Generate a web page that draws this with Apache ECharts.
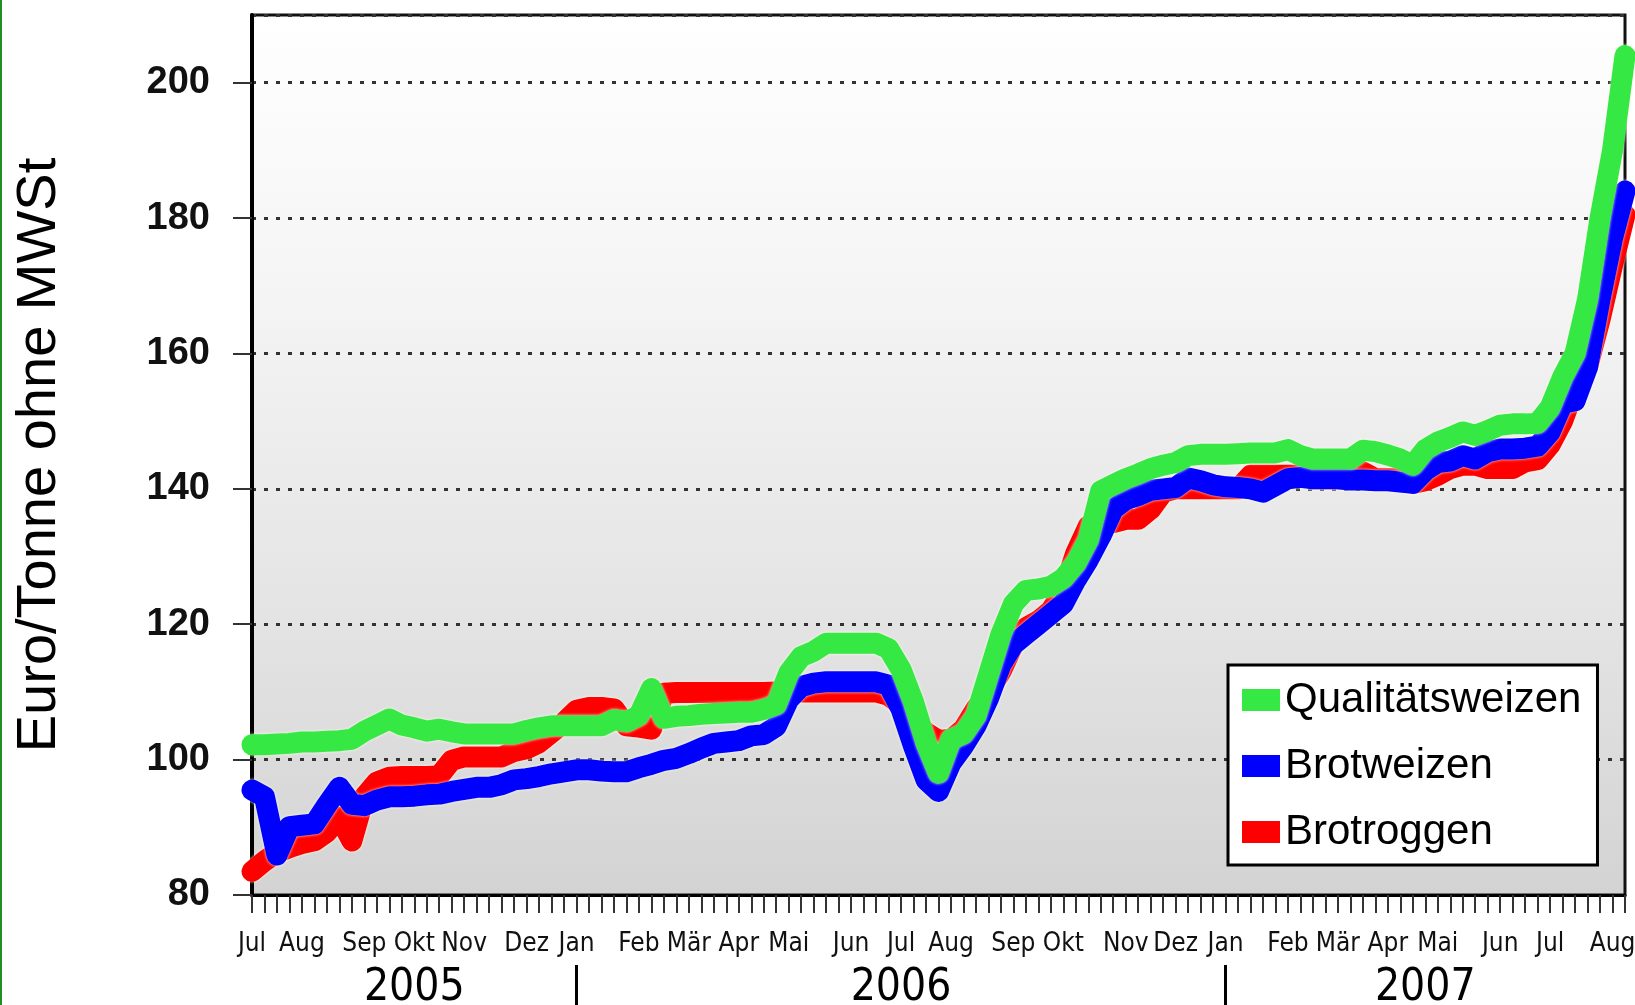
<!DOCTYPE html>
<html>
<head>
<meta charset="utf-8">
<script src="https://cdn.jsdelivr.net/npm/echarts@6/dist/echarts.min.js"></script>
<style>
  html, body { margin: 0; padding: 0; background: #ffffff; }
  #chart { width: 1635px; height: 1005px; }
  #edge { position: absolute; left: 0; top: 0; width: 2px; height: 1005px; background: #1f8f1f; z-index: 5; }
</style>
</head>
<body>
<div id="edge"></div>
<div id="chart"></div>
<script>
// ---- data (weekly quotes, Jul 2005 - Aug 2007), Euro/Tonne ohne MWSt ----
const seriesNames = ['Qualitätsweizen', 'Brotweizen', 'Brotroggen'];

const qualitaetsweizen = [
  102.2,102.2,102.3,102.4,102.6,102.6,102.7,102.8,103.0,104.2,
  105.1,106.0,105.1,104.7,104.2,104.5,104.1,103.8,103.8,103.8,
  103.8,103.8,104.3,104.7,105.0,105.0,105.0,105.0,105.0,105.9,
  105.6,106.5,110.5,106.1,106.4,106.5,106.7,106.8,106.9,107.0,
  107.0,107.4,108.1,112.8,115.2,116.0,117.2,117.2,117.2,117.2,
  117.2,116.4,113.3,108.5,102.5,98.0,103.0,103.8,106.5,112.5,
  118.5,123.0,125.0,125.2,125.6,126.8,129.0,132.5,139.7,140.6,
  141.5,142.2,143.0,143.5,143.9,144.9,145.1,145.1,145.1,145.2,
  145.3,145.3,145.3,145.8,144.9,144.4,144.4,144.4,144.4,145.7,
  145.5,145.0,144.4,143.5,145.8,146.9,147.6,148.4,147.9,148.6,
  149.4,149.6,149.6,149.7,152.0,156.5,160.0,168.0,180.0,190.0,
  204.0
];

const brotweizen = [
  95.5,94.5,85.9,90.1,90.3,90.5,93.3,95.9,93.4,93.2,
  94.0,94.5,94.5,94.6,94.8,94.9,95.3,95.6,95.9,95.9,
  96.3,97.0,97.2,97.5,97.9,98.2,98.5,98.5,98.3,98.2,
  98.2,98.8,99.3,99.9,100.2,100.9,101.7,102.4,102.6,102.8,
  103.5,103.7,104.9,108.9,110.8,111.3,111.5,111.5,111.5,111.5,
  111.5,111.0,107.5,102.0,97.0,95.3,99.5,102.0,105.0,109.0,
  114.0,117.0,118.5,120.0,121.5,123.0,126.5,129.5,133.0,137.0,
  138.4,139.0,139.8,140.0,140.2,141.6,141.2,140.6,140.3,140.2,
  140.0,139.5,140.5,141.5,141.7,141.5,141.5,141.5,141.3,141.3,
  141.2,141.2,141.0,140.8,142.7,143.9,144.1,144.9,144.4,145.5,
  145.9,145.9,146.0,146.3,148.4,152.6,153.0,158.0,168.0,177.0,
  184.0
];

const brotroggen = [
  83.5,85.0,86.3,87.0,87.6,88.0,89.3,91.5,88.0,94.5,
  96.7,97.4,97.5,97.5,97.5,97.6,99.9,100.4,100.4,100.4,
  100.4,101.2,101.6,102.5,104.0,105.5,107.3,107.7,107.7,107.5,
  105.0,104.8,104.5,109.8,109.9,109.9,109.9,109.9,109.9,109.9,
  109.9,109.9,110.0,109.8,110.0,110.0,110.0,110.0,110.0,110.0,
  110.0,109.5,108.0,106.0,104.0,102.8,103.0,104.5,107.5,110.0,
  113.0,117.0,119.5,120.5,122.0,125.0,130.5,134.5,135.0,135.0,
  135.5,135.5,137.0,139.5,140.0,140.0,140.0,140.0,140.0,140.0,
  142.0,142.0,142.0,142.0,142.0,141.5,141.5,141.5,141.5,142.5,
  141.5,141.5,141.5,140.8,141.2,142.0,143.0,143.5,143.5,143.0,
  143.0,143.0,144.0,144.3,146.5,150.0,155.0,158.0,165.0,173.0,
  180.5
];

const monthNames = ['Jan','Feb','Mär','Apr','Mai','Jun','Jul','Aug','Sep','Okt','Nov','Dez'];
const yTicks = [80, 100, 120, 140, 160, 180, 200];

// weekly categories (Tuesdays) starting 5 July 2005
const WEEK_MS = 7 * 86400000;
const startMs = Date.UTC(2005, 6, 5);
const weeks = qualitaetsweizen.map((_, i) => new Date(startMs + i * WEEK_MS).toISOString().slice(0, 10));

const isMonthStart = (d) => parseInt(d.slice(8, 10), 10) <= 7;
const isYearStart = (d) => d.slice(5, 7) === '01' && isMonthStart(d);

// middle week of every year segment for the year labels
const yearMid = {};
(function () {
  const ranges = {};
  weeks.forEach((d, i) => {
    const y = d.slice(0, 4);
    if (!ranges[y]) ranges[y] = [i, i]; else ranges[y][1] = i;
  });
  Object.keys(ranges).forEach(y => { yearMid[Math.round((ranges[y][0] + ranges[y][1]) / 2)] = y; });
})();

const FONT = '"Liberation Sans", Arial, sans-serif';
const NARROW = '"Liberation Sans Narrow", "DejaVu Sans Condensed", "Liberation Sans", sans-serif';

const colors = { 'Qualitätsweizen': '#36e844', 'Brotweizen': '#0000ff', 'Brotroggen': '#ff0000' };

function lineSeries(name, data) {
  return {
    name: name,
    type: 'line',
    data: data,
    showSymbol: false,
    symbol: 'none',
    smooth: false,
    clip: true,
    itemStyle: { color: colors[name] },
    lineStyle: {
      color: colors[name], width: 21, cap: 'round', join: 'round',
      shadowColor: 'rgba(255,255,235,0.95)', shadowBlur: 3
    },
    emphasis: { disabled: true }
  };
}

const chart = echarts.init(document.getElementById('chart'), null, { renderer: 'canvas' });
chart.setOption({
  animation: false,
  backgroundColor: '#ffffff',
  grid: {
    left: 252, right: 10, top: 15, bottom: 110,
    outerBoundsMode: 'none',
    containLabel: false,
    show: true,
    borderColor: '#111', borderWidth: 3,
    backgroundColor: new echarts.graphic.LinearGradient(0, 0, 0, 1, [
      { offset: 0, color: '#ffffff' },
      { offset: 0.3, color: '#f5f5f5' },
      { offset: 0.7, color: '#e3e3e3' },
      { offset: 1, color: '#d3d3d3' }
    ])
  },
  legend: {
    data: seriesNames,
    orient: 'vertical',
    left: 1228, top: 665,
    icon: 'rect',
    itemWidth: 38, itemHeight: 22, itemGap: 24,
    padding: [14, 16, 12, 14],
    backgroundColor: '#ffffff',
    borderColor: '#000', borderWidth: 3,
    textStyle: { fontSize: 42, color: '#000', fontFamily: FONT },
    selectedMode: false
  },
  xAxis: [
    {
      type: 'category',
      data: weeks,
      boundaryGap: false,
      axisLine: { show: true, lineStyle: { color: '#000', width: 3 } },
      axisTick: { show: true, interval: 0, length: 18, lineStyle: { color: '#333', width: 2 } },
      axisLabel: {
        interval: (i, v) => isMonthStart(v),
        formatter: (v) => monthNames[parseInt(v.slice(5, 7), 10) - 1],
        margin: 36,
        fontSize: 26, color: '#111', fontFamily: NARROW
      },
      splitLine: { show: false }
    },
    {
      type: 'category',
      data: weeks,
      boundaryGap: false,
      position: 'bottom',
      offset: 70,
      axisLine: { show: false },
      axisTick: { show: true, interval: (i, v) => isYearStart(v), length: 45, lineStyle: { color: '#000', width: 3 } },
      axisLabel: {
        interval: (i) => yearMid[i] !== undefined,
        formatter: (v) => v.slice(0, 4),
        margin: 2,
        fontSize: 44, color: '#000', fontFamily: NARROW
      },
      splitLine: { show: false }
    }
  ],
  yAxis: {
    type: 'value',
    min: yTicks[0], max: 210, interval: 20,
    name: 'Euro/Tonne ohne MWSt',
    nameLocation: 'middle',
    nameGap: 184,
    nameTextStyle: { fontSize: 56, color: '#000', fontFamily: FONT },
    axisLine: { show: true, lineStyle: { color: '#000', width: 4 } },
    axisTick: { show: true, length: 19, lineStyle: { color: '#333', width: 2 } },
    axisLabel: {
      showMaxLabel: false,
      margin: 42,
      fontSize: 38, fontWeight: 'bold', color: '#111', fontFamily: FONT
    },
    splitLine: { show: true, lineStyle: { color: '#333', width: 3, type: [4, 8] } }
  },
  series: [
    lineSeries('Brotroggen', brotroggen),
    lineSeries('Brotweizen', brotweizen),
    lineSeries('Qualitätsweizen', qualitaetsweizen)
  ]
});
</script>
</body>
</html>
